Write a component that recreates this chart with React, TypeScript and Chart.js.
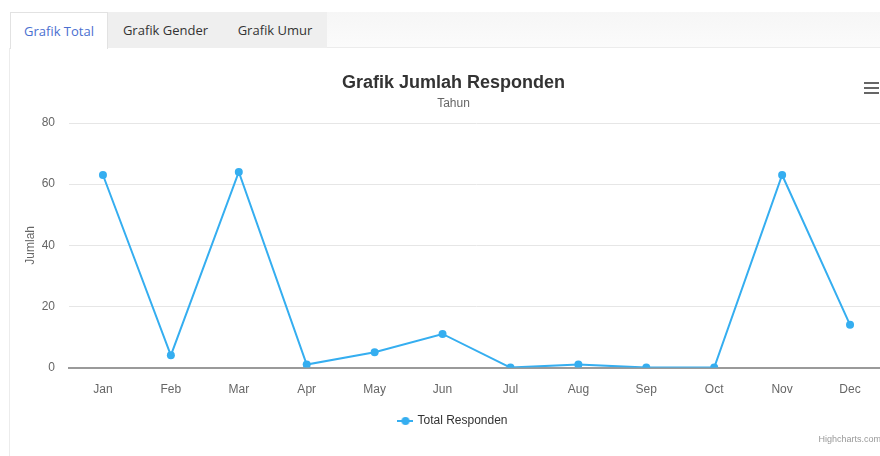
import React, { useEffect, useRef } from "react";
import { Chart, registerables } from "chart.js";

Chart.register(...registerables);

const categories = ["Jan", "Feb", "Mar", "Apr", "May", "Jun", "Jul", "Aug", "Sep", "Oct", "Nov", "Dec"];
const totalResponden = [63, 4, 64, 1, 5, 11, 0, 1, 0, 0, 63, 14];
const seriesName = "Total Responden";
const chartTitle = "Grafik Jumlah Responden";
const chartSubtitle = "Tahun";
const yAxisTitle = "Jumlah";
const tabLabels = ["Grafik Total", "Grafik Gender", "Grafik Umur"];
const creditText = "Highcharts.com";

const LINE = "#35aef0";
const FONT = "'Liberation Sans', Arial, Helvetica, sans-serif";

function makeLegendMarker(): HTMLCanvasElement {
  const c = document.createElement("canvas");
  c.width = 16;
  c.height = 10;
  const ctx = c.getContext("2d")!;
  ctx.strokeStyle = LINE;
  ctx.lineWidth = 2;
  ctx.beginPath();
  ctx.moveTo(0, 5);
  ctx.lineTo(16, 5);
  ctx.stroke();
  ctx.fillStyle = LINE;
  ctx.beginPath();
  ctx.arc(8, 5, 4, 0, Math.PI * 2);
  ctx.fill();
  return c;
}

const extras = {
  id: "extras",
  afterDraw(chart: any) {
    const ctx = chart.ctx as CanvasRenderingContext2D;
    ctx.save();
    // credits
    ctx.font = `9px ${FONT}`;
    ctx.fillStyle = "#999999";
    ctx.textAlign = "right";
    ctx.textBaseline = "middle";
    ctx.fillText(creditText, chart.width - 13, chart.height - 16);
    // hamburger menu
    ctx.strokeStyle = "#666666";
    ctx.lineWidth = 2;
    const x0 = chart.width - 30;
    const x1 = chart.width - 15;
    [34, 39, 44].forEach((y) => {
      ctx.beginPath();
      ctx.moveTo(x0, y);
      ctx.lineTo(x1, y);
      ctx.stroke();
    });
    ctx.restore();
  },
};

export default function App() {
  const ref = useRef<HTMLCanvasElement>(null);

  useEffect(() => {
    document.body.style.overflow = "hidden";
    const marker = makeLegendMarker();
    const chart = new Chart(ref.current!, {
      type: "line",
      data: {
        labels: categories,
        datasets: [
          {
            label: seriesName,
            data: totalResponden,
            borderColor: LINE,
            backgroundColor: LINE,
            borderWidth: 2,
            pointRadius: 4,
            pointBackgroundColor: LINE,
            pointBorderWidth: 0,
            pointStyle: "circle",
            tension: 0,
          },
        ],
      },
      options: {
        animation: false,
        responsive: true,
        maintainAspectRatio: false,
        layout: { padding: { left: 13, right: 10, top: 0, bottom: 19 } },
        scales: {
          x: {
            offset: true,
            grid: { display: false, drawTicks: false },
            border: { display: true, color: "#9a9a9a", width: 2 },
            ticks: { color: "#666666", font: { family: FONT, size: 12 }, padding: 15, maxRotation: 0 },
          },
          y: {
            min: 0,
            max: 80,
            grid: { color: "#e6e6e6", drawTicks: false },
            border: { display: false },
            ticks: { stepSize: 20, color: "#666666", font: { family: FONT, size: 12 }, padding: 14 },
            title: {
              display: true,
              text: yAxisTitle,
              color: "#666666",
              font: { family: FONT, size: 12 },
              padding: { top: 0, bottom: 4 },
            },
            afterFit: (s: any) => {
              s.width = 46;
            },
          },
        },
        plugins: {
          title: {
            display: true,
            text: chartTitle,
            color: "#333333",
            font: { family: FONT, size: 18, weight: "bold" },
            padding: { top: 23, bottom: 0 },
          },
          subtitle: {
            display: true,
            text: chartSubtitle,
            color: "#666666",
            font: { family: FONT, size: 12 },
            padding: { top: 3, bottom: 12 },
          },
          legend: {
            position: "bottom",
            labels: {
              color: "#333333",
              font: { family: FONT, size: 12 },
              padding: 3,
              usePointStyle: true,
              generateLabels: (c: any) =>
                c.data.datasets.map((d: any, i: number) => ({
                  text: d.label,
                  pointStyle: marker,
                  fillStyle: LINE,
                  strokeStyle: LINE,
                  lineWidth: 0,
                  hidden: false,
                  datasetIndex: i,
                  fontColor: "#333333",
                })),
            },
          },
          tooltip: { enabled: false },
        },
      },
      plugins: [extras],
    } as any);
    return () => chart.destroy();
  }, []);

  const tabBase: React.CSSProperties = {
    position: "absolute",
    top: 0,
    height: 36,
    lineHeight: "36px",
    fontFamily: "'Open Sans', 'Noto Sans', sans-serif",
    fontSize: 13,
    textAlign: "center",
    boxSizing: "border-box",
  };

  return (
    <div
      style={{
        position: "absolute",
        top: 8,
        left: 8,
        width: 872,
        height: 448,
        overflow: "hidden",
        background: "#fff",
      }}
    >
      <div
        style={{
          position: "absolute",
          top: 4,
          left: 2,
          right: 0,
          height: 36,
          background: "linear-gradient(#f6f6f6, #fbfbfb)",
          borderBottom: "1px solid #ececec",
          boxSizing: "border-box",
        }}
      >
        <div
          style={{
            ...tabBase,
            left: 0,
            width: 98,
            height: 37,
            background: "#fff",
            color: "#4a6fd0",
            borderTop: "1px solid #e2e2e2",
            borderLeft: "1px solid #e2e2e2",
            borderRight: "1px solid #e2e2e2",
            zIndex: 2,
          }}
        >
          {tabLabels[0]}
        </div>
        <div style={{ ...tabBase, left: 98, width: 115, background: "#efefef", color: "#333" }}>{tabLabels[1]}</div>
        <div style={{ ...tabBase, left: 213, width: 104, background: "#efefef", color: "#333" }}>{tabLabels[2]}</div>
      </div>
      <div style={{ position: "absolute", top: 40, left: 1, width: 1, bottom: 0, background: "#ececec" }} />
      <div style={{ position: "absolute", left: 2, top: 41, width: 884, height: 407 }}>
        <canvas ref={ref} />
      </div>
    </div>
  );
}
